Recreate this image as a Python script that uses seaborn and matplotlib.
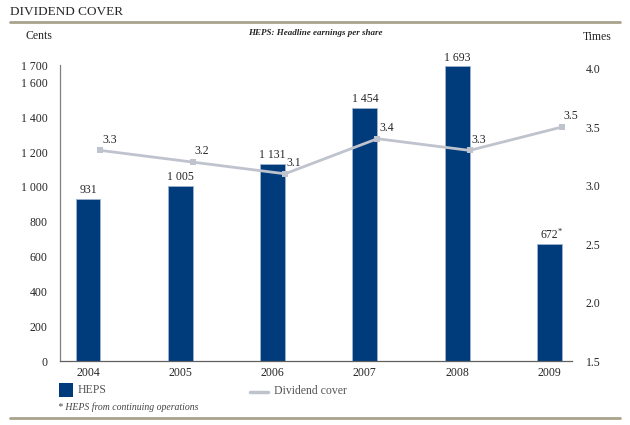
import matplotlib
matplotlib.use('Agg')
import matplotlib.pyplot as plt
import matplotlib.patches as mpatches
import matplotlib.lines as mlines
import numpy as np
import pandas as pd
import seaborn as sns

years = ['2004', '2005', '2006', '2007', '2008', '2009']
heps = [931, 1005, 1131, 1454, 1693, 672]
heps_labels = ['931', '1 005', '1 131', '1 454', '1 693', '672']
cover = [3.3, 3.2, 3.1, 3.4, 3.3, 3.5]
left_ticks = [0, 200, 400, 600, 800, 1000, 1200, 1400, 1600, 1700]
right_ticks = [1.5, 2.0, 2.5, 3.0, 3.5, 4.0]

navy = '#003b7b'
grey = '#bfc3cd'
rule = '#a8a38c'

sns.set_style('white')
plt.rcParams['font.family'] = ['Liberation Serif', 'DejaVu Serif']

df = pd.DataFrame({'year': years, 'heps': heps, 'cover': cover})

fig = plt.figure(figsize=(6.3, 4.25), dpi=100)
ax = fig.add_axes([60 / 630, 1 - 361 / 425, 512 / 630, 296 / 425])

sns.barplot(data=df, x='year', y='heps', color=navy, width=0.27, saturation=1,
            edgecolor='#9fb3d1', linewidth=0.6, ax=ax)
ax.set_xlim(-0.303, 5.244)
ax.set_ylim(0, 1700)
ax.set_yticks(left_ticks)
ax.set_yticklabels([f'{v:,}'.replace(',', ' ') for v in left_ticks], fontsize=8.5)
ax.tick_params(axis='y', length=0, pad=9)
ax.tick_params(axis='x', length=0, pad=4, labelsize=8.5)
ax.set_xlabel('')
ax.set_ylabel('')
for s in ['top', 'right']:
    ax.spines[s].set_visible(False)
ax.spines['left'].set_color('#808080')
ax.spines['bottom'].set_color('#606060')
ax.spines['left'].set_linewidth(0.9)
ax.spines['bottom'].set_linewidth(0.9)

for i, (v, lab) in enumerate(zip(heps, heps_labels)):
    ax.text(i, v + 15, lab, ha='center', va='bottom', fontsize=8.5)
ax.text(5.09, 672 + 45, '*', ha='left', va='bottom', fontsize=6)

ax2 = ax.twinx()
xline = np.arange(len(years)) + 0.135
sns.lineplot(x=xline, y=cover, color=grey, linewidth=2, marker='s',
             markersize=5, markeredgewidth=0, ax=ax2)
ax2.set_ylim(1.5, 4.03)
ax2.set_yticks(right_ticks)
ax2.set_yticklabels([f'{v:.1f}' for v in right_ticks], fontsize=8.5)
ax2.tick_params(axis='y', length=0, pad=10)
ax2.set_xlim(-0.303, 5.244)
for s in ['top', 'right', 'left', 'bottom']:
    ax2.spines[s].set_visible(False)
ax2.set_ylabel('')

for xv, v in zip(xline, cover):
    ax2.text(xv + 0.02, v + 0.04, f'{v:.1f}', ha='left', va='bottom', fontsize=8.5)

# header and labels
fig.text(10 / 630, 1 - 12 / 425, 'DIVIDEND COVER', ha='left', va='center', fontsize=9.5)
fig.add_artist(mlines.Line2D([10 / 630, 620 / 630], [1 - 22 / 425] * 2,
                             color=rule, linewidth=2))
fig.text(26 / 630, 1 - 36 / 425, 'Cents', ha='left', va='center', fontsize=8.5)
fig.text(583 / 630, 1 - 37 / 425, 'Times', ha='left', va='center', fontsize=8.5)
fig.text(315 / 630, 1 - 33 / 425, 'HEPS: Headline earnings per share', ha='center',
         va='center', fontsize=6.5, style='italic', fontweight='bold')

# legend
fig.add_artist(mpatches.Rectangle((59 / 630, 1 - 397 / 425), 14 / 630, 14 / 425,
                                  facecolor=navy, edgecolor='none'))
fig.text(78 / 630, 1 - 390 / 425, 'HEPS', ha='left', va='center', fontsize=8.5, color='#555555')
fig.add_artist(mlines.Line2D([250 / 630, 268 / 630], [1 - 392 / 425] * 2,
                             color=grey, linewidth=2.5))
fig.text(274 / 630, 1 - 391 / 425, 'Dividend cover', ha='left', va='center',
         fontsize=8.5, color='#555555')
fig.text(58 / 630, 1 - 407 / 425, '* HEPS from continuing operations', ha='left',
         va='center', fontsize=7, style='italic', color='#444444')
fig.add_artist(mlines.Line2D([10 / 630, 620 / 630], [1 - 418 / 425] * 2,
                             color=rule, linewidth=2))

fig.savefig('out.png', dpi=100)
